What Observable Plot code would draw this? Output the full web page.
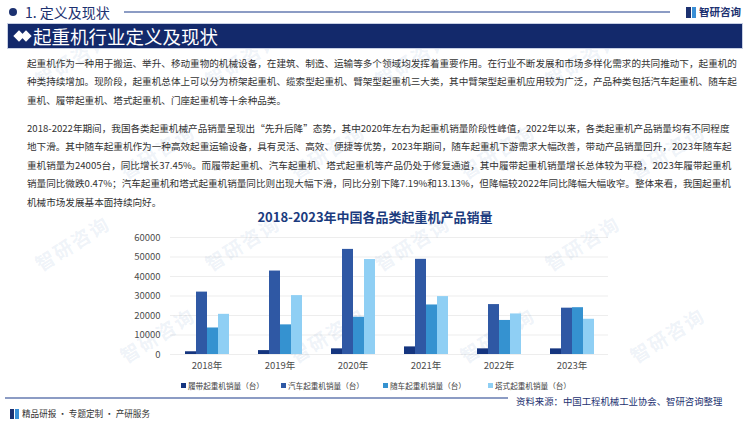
<!DOCTYPE html>
<html><head><meta charset="utf-8">
<script src="https://cdn.jsdelivr.net/npm/d3@7"></script>
<script src="https://cdn.jsdelivr.net/npm/@observablehq/plot@0.6"></script>
<style>
html,body{margin:0;padding:0}
body{width:750px;height:421px;overflow:hidden;background:#fff;position:relative;font-family:"Noto Sans CJK SC","Noto Sans",sans-serif;color:#333}
.abs{position:absolute}
.wm{position:absolute;font-size:19px;font-weight:bold;color:rgba(140,170,210,0.15);transform:rotate(-32deg);white-space:nowrap;z-index:0;pointer-events:none;letter-spacing:2px}
.hdr{left:25px;top:2px;font-size:14px;line-height:20px;color:#1c3170;white-space:nowrap}
.dot{left:9px;top:8px;width:8px;height:8px;border-radius:50%;background:#1c3170}
.hline{left:124px;top:11px;width:546px;height:1.5px;background:#8c9cc4}
.logo{left:686px;top:4px;font-size:10.5px;font-weight:bold;color:#1c3170;line-height:16px;white-space:nowrap}
.ico{display:inline-block;width:10px;height:11px;vertical-align:-2px;margin-right:3px;background:linear-gradient(90deg,#1c3170 0 45%,#fff 45% 55%,#3a8fd6 55%)}
.banner{left:7px;top:23px;width:736px;height:26px;background:#13296b;border:1px solid #c7cfe3;box-sizing:border-box}
.btext{left:33px;top:22px;font-size:18.5px;line-height:28px;color:#fff;white-space:nowrap}
.dia{width:8px;height:8px;background:#fff;transform:rotate(45deg)}
.para{left:27px;width:695px;font-size:9.6px;color:#333}
.para div{height:18.4px;line-height:18.4px;text-align:justify;text-align-last:justify;white-space:nowrap;overflow:visible}
.para div.last{text-align-last:left}
.ctitle{left:0;width:750px;top:207px;text-align:center;font-size:13px;font-weight:bold;color:#1b3b7e;line-height:20px}
.legend{top:380px;font-size:7.6px;color:#404040;line-height:12px;white-space:nowrap}
.legend span.sw{display:inline-block;width:5px;height:5px;margin-right:2px;vertical-align:1px}
.sep{left:5px;top:397px;width:503px;height:1.5px;background:#8c9cc4}
.src{left:516px;top:393px;font-size:9.4px;color:#1c3170;line-height:16px;white-space:nowrap}
.foot{left:10px;top:406px;font-size:8.6px;color:#333;line-height:14px;white-space:nowrap}
#chart{left:0;top:228px}
</style></head><body>
<script>
const years = ["2018年","2019年","2020年","2021年","2022年","2023年"];
const seriesNames = ["履带起重机销量（台）","汽车起重机销量（台）","随车起重机销量（台）","塔式起重机销量（台）"];
const crawlerSales = [1400, 2000, 2900, 3900, 2900, 2886];
const truckSales = [32000, 42800, 53900, 48800, 25600, 23760];
const loaderSales = [13600, 15200, 19100, 25400, 17464, 24005];
const towerSales = [20600, 30200, 48700, 29700, 20800, 18070];
const yTicks = [0, 10000, 20000, 30000, 40000, 50000, 60000];
const seriesColors = ["#15357f", "#2f58a4", "#3592d0", "#8fcff4"];
</script>

<div id="wms"></div>

<div class="abs dot"></div>
<div class="abs hdr">1. 定义及现状</div>
<div class="abs hline"></div>
<div class="abs logo"><span class="ico"></span>智研咨询</div>

<div class="abs banner"></div>
<div class="abs dia" style="left:15px;top:32px"></div>
<div class="abs dia" style="left:22px;top:32px"></div>
<div class="abs btext">起重机行业定义及现状</div>

<div class="abs para" style="top:54px">
<div>起重机作为一种用于搬运、举升、移动重物的机械设备，在建筑、制造、运输等多个领域均发挥着重要作用。在行业不断发展和市场多样化需求的共同推动下，起重机的</div>
<div>种类持续增加。现阶段，起重机总体上可以分为桥架起重机、缆索型起重机、臂架型起重机三大类，其中臂架型起重机应用较为广泛，产品种类包括汽车起重机、随车起</div>
<div class="last">重机、履带起重机、塔式起重机、门座起重机等十余种品类。</div>
</div>
<div class="abs para" style="top:119px">
<div>2018-2022年期间，我国各类起重机械产品销量呈现出“先升后降”态势，其中2020年左右为起重机销量阶段性峰值，2022年以来，各类起重机产品销量均有不同程度</div>
<div>地下滑。其中随车起重机作为一种高效起重运输设备，具有灵活、高效、便捷等优势，2023年期间，随车起重机下游需求大幅改善，带动产品销量回升，2023年随车起</div>
<div>重机销量为24005台，同比增长37.45%。而履带起重机、汽车起重机、塔式起重机等产品仍处于修复通道，其中履带起重机销量增长总体较为平稳，2023年履带起重机</div>
<div>销量同比微跌0.47%；汽车起重机和塔式起重机销量同比则出现大幅下滑，同比分别下降7.19%和13.13%，但降幅较2022年同比降幅大幅收窄。整体来看，我国起重机</div>
<div class="last">机械市场发展基本面持续向好。</div>
</div>

<div class="abs ctitle">2018-2023年中国各品类起重机产品销量</div>
<div class="abs" id="chart"></div>
<div id="legend"></div>

<div class="abs sep"></div>
<div class="abs src">资料来源：中国工程机械工业协会、智研咨询整理</div>
<div class="abs foot"><span class="ico" style="width:9px;height:10px"></span>精品研报 · 专题定制 · 产研服务</div>

<script>
// decorative watermark tiling, kept fully inside the page
const wms = document.getElementById("wms");
for (let r = 0; r < 4; r++) {
  for (let c = 0; c < 4; c++) {
    const w = document.createElement("div");
    w.className = "wm";
    w.textContent = "智研咨询";
    w.style.left = (c * 170 + (r % 2) * 85 + 30) + "px";
    w.style.top = (r * 92 + 45) + "px";
    wms.appendChild(w);
  }
}

const data = [];
const seriesValues = [crawlerSales, truckSales, loaderSales, towerSales];
years.forEach((yr, i) => {
  seriesNames.forEach((s, j) => data.push({year: yr, series: s, value: seriesValues[j][i]}));
});
const chart = Plot.plot({
  width: 750, height: 150,
  marginLeft: 168, marginRight: 140, marginTop: 9, marginBottom: 24,
  style: {fontFamily: '"Noto Sans CJK SC","Noto Sans",sans-serif', fontSize: "9.5px", color: "#4d4d4d", background: "transparent", overflow: "visible"},
  fx: {domain: years, padding: 0, label: null, tickSize: 0, tickPadding: 8, axis: "bottom"},
  x: {domain: seriesNames, paddingInner: 0, paddingOuter: 1.13, axis: null},
  y: {domain: [0, 60000], ticks: yTicks, grid: true, label: null, tickSize: 0, tickPadding: 10, tickFormat: d => String(d)},
  color: {domain: seriesNames, range: seriesColors},
  marks: [
    Plot.barY(data, {fx: "year", x: "series", y: "value", fill: "series"})
  ]
});
document.getElementById("chart").appendChild(chart);

const legendX = [181, 281, 383, 488];
const lg = document.getElementById("legend");
seriesNames.forEach((s, j) => {
  const d = document.createElement("div");
  d.className = "abs legend";
  d.style.left = legendX[j] + "px";
  d.innerHTML = `<span class="sw" style="background:${seriesColors[j]}"></span>${s}`;
  lg.appendChild(d);
});
</script>
</body></html>
